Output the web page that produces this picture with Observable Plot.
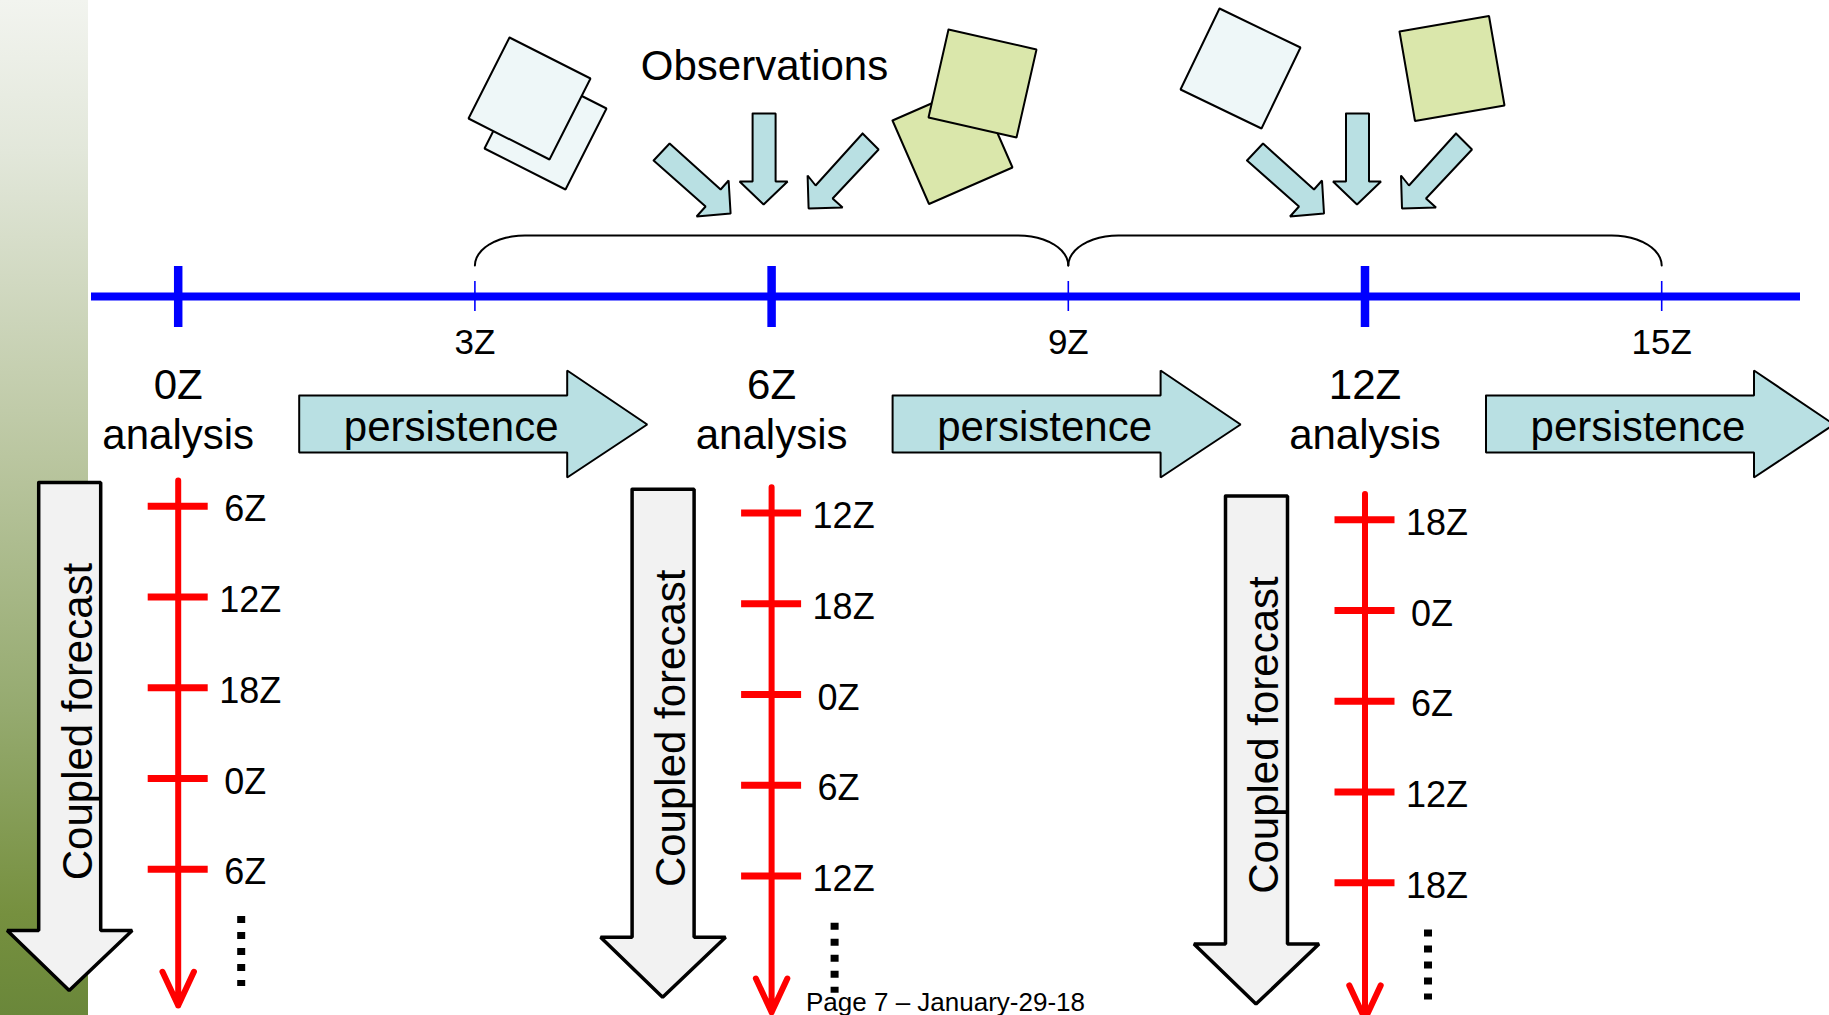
<!DOCTYPE html>
<html>
<head>
<meta charset="utf-8">
<script src="https://cdn.jsdelivr.net/npm/d3@7"></script>
<script src="https://cdn.jsdelivr.net/npm/@observablehq/plot@0.6"></script>
<style>
  html, body { margin: 0; padding: 0; background: #fff; overflow: hidden; }
</style>
</head>
<body>
<div id="chart"></div>
<script>
// ---------------- data ----------------
const analysisHours = [0, 6, 12];
const analysisLabels = ["0Z", "6Z", "12Z"];
const windowHours = [3, 9, 15];
const windowLabels = ["3Z", "9Z", "15Z"];
const assimWindows = [[3, 9], [9, 15]];
const obsHours = [6, 12];
const leadHours = [6, 12, 18, 24, 30];
const validLabels0Z = ["6Z", "12Z", "18Z", "0Z", "6Z"];
const validLabels6Z = ["12Z", "18Z", "0Z", "6Z", "12Z"];
const validLabels12Z = ["18Z", "0Z", "6Z", "12Z", "18Z"];
const validLabels = [validLabels0Z, validLabels6Z, validLabels12Z];
const obsTitle = "Observations";
const persistenceText = "persistence";
const analysisWord = "analysis";
const forecastText = "Coupled forecast";
const footerText = "Page 7 – January-29-18";

// ---------------- layout ----------------
const W = 1829, H = 1015;
const X0 = 177.7, PXH = 98.9;   // pixel of 0Z, pixels per hour on the analysis timeline
const Y0 = 415, PXL = 15.125;   // pixel of lead 0, pixels per forecast-lead hour
const COL = 6.8;                // vertical stagger of successive forecast columns (px)
const hx = px => (px - X0) / PXH;
const ly = py => (py - Y0) / PXL;
const dx = px => px / PXH;
const dy = px => px / PXL;

const BLUE = "#0000ff", RED = "#ff0000", TEAL = "#b9e0e3";
const PALE = "#eef7f8", GREEN = "#dae7ab", GREY = "#f2f2f2";

// glyph templates (pixel offsets from an analysis time; absolute layout y)
const persistTpl = [[121,395],[389,395],[389,370],[469,424],[389,477],[389,452],[121,452]];
const coupledTpl = [[-139.5,482],[-77.5,482],[-77.5,930],[-46,930],[-109,990],[-171,930],[-139.5,930]];
const obsArrowTpls = [
  [[-118,160],[-102,143],[-51,189],[-43,180],[-41,213],[-75,216],[-66,206]],
  [[-19,113],[4,113],[4,181],[16,181],[-8,204],[-32,181],[-19,181]],
  [[91,133],[107,149],[61,198],[71,207],[37,208],[36,175],[44,185]]
];
const sheets = [
  {c: [545, 128], v: [-20, -61], fill: PALE},
  {c: [529, 98], v: [-20, -61], fill: PALE},
  {c: [952, 143.5], v: [-60, -23.5], fill: GREEN},
  {c: [982, 83], v: [-34, -54], fill: GREEN},
  {c: [1240, 68], v: [-21, -60], fill: PALE},
  {c: [1451.5, 68], v: [-52.5, -37], fill: GREEN}
];

function shape(id, anchorH, pts, shiftY = 0) {
  return pts.concat([pts[0]]).map(([px, py]) => ({id, x: anchorH + dx(px), y: ly(py + shiftY)}));
}
function sheet(id, s) {
  const [cx, cy] = s.c, [vx, vy] = s.v;
  const pts = [[cx + vx, cy + vy], [cx - vy, cy + vx], [cx - vx, cy - vy], [cx + vy, cy - vx]];
  return pts.concat([pts[0]]).map(([px, py]) => ({id, x: hx(px), y: ly(py)}));
}
function bracePts(id, a, b) {
  const rx = dx(50), ry = dy(30), yLow = ly(265), n = 12, out = [];
  for (let k = 0; k <= n; k++) {
    const t = Math.PI + (Math.PI / 2) * k / n;
    out.push({id, x: a + rx + rx * Math.cos(t), y: yLow + ry * Math.sin(t)});
  }
  for (let k = 0; k <= n; k++) {
    const t = -Math.PI / 2 + (Math.PI / 2) * k / n;
    out.push({id, x: b - rx + rx * Math.cos(t), y: yLow + ry * Math.sin(t)});
  }
  return out;
}

const analysisTable = analysisHours.map((h, i) => ({h, label: analysisLabels[i], col: i}));
const windowTable = windowHours.map((h, i) => ({h, label: windowLabels[i]}));
const leadTable = analysisTable.flatMap(a => leadHours.map((l, j) => ({h: a.h, col: a.col, lead: l, label: validLabels[a.col][j]})));

const persistRows = analysisTable.flatMap(a => shape("p" + a.col, a.h, persistTpl));
const coupledRows = analysisTable.flatMap(a => shape("c" + a.col, a.h, coupledTpl, COL * a.col));
const obsRows = obsHours.flatMap(h => obsArrowTpls.flatMap((t, k) => shape("o" + h + "_" + k, h, t)));
const braceRows = assimWindows.flatMap(([a, b], i) => bracePts("b" + i, a, b));

const sheetMarks = sheets.map((s, i) => Plot.line(sheet("s" + i, s), {
  x: "x", y: "y", fill: s.fill, stroke: "black", strokeWidth: 2, strokeLinejoin: "miter"
}));

const txt = {fill: "black"};

const svg = Plot.plot({
  width: W, height: H,
  margin: 0,
  x: {domain: [hx(0), hx(W)], range: [0, W], axis: null},
  y: {domain: [ly(0), ly(H)], range: [0, H], axis: null},
  style: {background: "white", fontFamily: "'Liberation Sans', Arial, sans-serif", overflow: "visible"},
  marks: [
    // slide side band
    Plot.rect([0], {x1: hx(0), x2: hx(88), y1: ly(0), y2: ly(H), fill: "url(#band)"}),
    // observation sheets
    ...sheetMarks,
    // observation arrows
    Plot.line(obsRows, {x: "x", y: "y", z: "id", fill: TEAL, stroke: "black", strokeWidth: 2, strokeLinejoin: "miter"}),
    Plot.text([obsTitle], {x: hx(764), y: ly(65.6), text: d => d, fontSize: 42, ...txt}),
    // assimilation window braces
    Plot.line(braceRows, {x: "x", y: "y", z: "id", stroke: "black", strokeWidth: 2}),
    // analysis timeline
    Plot.ruleY([ly(296)], {x1: hx(91), x2: hx(1800), stroke: BLUE, strokeWidth: 8}),
    Plot.ruleX(analysisHours, {x: d => d, y1: ly(266), y2: ly(327), stroke: BLUE, strokeWidth: 8.5}),
    Plot.ruleX(windowHours, {x: d => d, y1: ly(281), y2: ly(311), stroke: BLUE, strokeWidth: 1.6}),
    Plot.text(windowTable, {x: "h", y: ly(341.8), text: "label", fontSize: 35, ...txt}),
    // analysis labels
    Plot.text(analysisTable, {x: "h", y: ly(384.6), text: "label", fontSize: 42, ...txt}),
    Plot.text(analysisTable, {x: "h", y: ly(434.6), text: () => analysisWord, fontSize: 42, ...txt}),
    // persistence arrows
    Plot.line(persistRows, {x: "x", y: "y", z: "id", fill: TEAL, stroke: "black", strokeWidth: 2, strokeLinejoin: "miter"}),
    Plot.text(analysisTable, {x: d => d.h + dx(273), y: ly(427), text: () => persistenceText, fontSize: 42, ...txt}),
    // coupled forecast arrows
    Plot.line(coupledRows, {x: "x", y: "y", z: "id", fill: GREY, stroke: "black", strokeWidth: 3.5, strokeLinejoin: "miter"}),
    Plot.text(analysisTable, {x: d => d.h + dx(-100), y: d => ly(721 + COL * d.col), text: () => forecastText, rotate: -90, fontSize: 42, ...txt}),
    // forecast lead axes
    Plot.arrow(analysisTable, {
      x1: "h", x2: "h",
      y1: d => ly(480 + COL * d.col), y2: d => ly(1005 + COL * d.col),
      stroke: RED, strokeWidth: 6, headAngle: 50, headLength: 9.3
    }),
    Plot.ruleY(leadTable, {y: d => d.lead + dy(COL * d.col), x1: d => d.h - dx(30), x2: d => d.h + dx(30), stroke: RED, strokeWidth: 7}),
    Plot.text(leadTable, {x: d => d.h + dx(d.label.length === 2 ? 46 : 41), y: d => d.lead + dy(COL * d.col + 3.5), text: "label", textAnchor: "start", fontSize: 36, ...txt}),
    Plot.ruleX(analysisTable, {x: d => d.h + dx(63), y1: d => ly(916 + COL * d.col), y2: d => ly(986 + COL * d.col), stroke: "black", strokeWidth: 8, strokeDasharray: "7,9"}),
    // footer
    Plot.text([footerText], {x: hx(945), y: ly(1001.7), text: d => d, fontSize: 26, ...txt})
  ]
});

const defs = d3.select(svg).insert("defs", ":first-child");
const grad = defs.append("linearGradient").attr("id", "band").attr("x1", 0).attr("y1", 0).attr("x2", 0).attr("y2", 1);
[[0, "#f2f4ef"], [0.15, "#e2e7da"], [0.45, "#bac6a0"], [0.7, "#95aa6f"], [0.9, "#76903f"], [1, "#6a873a"]]
  .forEach(([o, c]) => grad.append("stop").attr("offset", o).attr("stop-color", c));

document.getElementById("chart").appendChild(svg);
</script>
</body>
</html>
